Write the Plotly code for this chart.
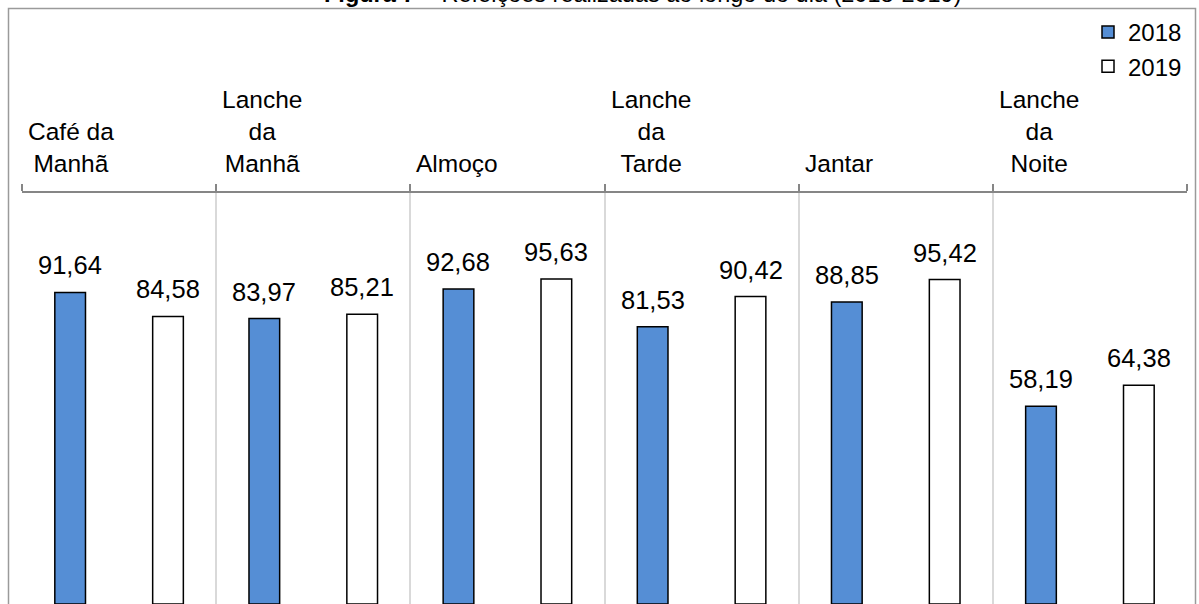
import plotly.graph_objects as go

categories = ["Café da<br>Manhã", "Lanche<br>da<br>Manhã", "Almoço", "Lanche<br>da<br>Tarde", "Jantar", "Lanche<br>da<br>Noite"]
values_2018 = [91.64, 83.97, 92.68, 81.53, 88.85, 58.19]
values_2019 = [84.58, 85.21, 95.63, 90.42, 95.42, 64.38]
labels_2018 = ["91,64", "83,97", "92,68", "81,53", "88,85", "58,19"]
labels_2019 = ["84,58", "85,21", "95,63", "90,42", "95,42", "64,38"]
title_text = "<b>Figura 7</b> – Refeições realizadas ao longo do dia (2018-2019)"

FONT = "Liberation Sans, Arial, sans-serif"
BLUE = "#558ED5"
xs = list(range(len(categories)))
OFF = 0.252
W = 0.158

fig = go.Figure()
fig.add_trace(go.Bar(x=xs, y=values_2018, name="2018", width=W, offset=-OFF - W / 2,
                     marker=dict(color=BLUE, line=dict(color="black", width=1.5)),
                     legendgroup="a"))
fig.add_trace(go.Bar(x=xs, y=values_2019, name="2019", width=W, offset=OFF - W / 2,
                     marker=dict(color="white", line=dict(color="black", width=1.5)),
                     legendgroup="b"))

ann = []
for i, (v, t) in enumerate(zip(values_2018, labels_2018)):
    ann.append(dict(x=i - OFF, y=v, xref="x", yref="y", text=t, showarrow=False,
                    yanchor="bottom", xanchor="center", yshift=11,
                    font=dict(family=FONT, size=25.5, color="black")))
for i, (v, t) in enumerate(zip(values_2019, labels_2019)):
    ann.append(dict(x=i + OFF, y=v, xref="x", yref="y", text=t, showarrow=False,
                    yanchor="bottom", xanchor="center", yshift=11,
                    font=dict(family=FONT, size=25.5, color="black")))
for i, c in enumerate(categories):
    ann.append(dict(x=i - 0.5, y=1, xref="x", yref="paper", text=c, showarrow=False,
                    yanchor="bottom", xanchor="left", align="center", xshift=4, yshift=14,
                    font=dict(family=FONT, size=24.5, color="black")))
ann.append(dict(x=(643 - 22) / 1165, y=1 + (193 - 9) / 411, xref="paper", yref="paper",
                text=title_text, showarrow=False, xanchor="center", yanchor="bottom",
                font=dict(family=FONT, size=23.5, color="black")))

fig.update_layout(
    width=1199, height=604,
    margin=dict(l=22, r=12, t=193, b=0, pad=0),
    paper_bgcolor="white", plot_bgcolor="white",
    barmode="overlay",
    showlegend=True,
    legend=dict(x=(1088 - 22) / 1165, y=1 + (193 - 10) / 411, xanchor="left", yanchor="top",
                font=dict(family=FONT, size=24, color="black"), tracegroupgap=0,
                bgcolor="rgba(0,0,0,0)", itemclick=False),
    xaxis=dict(range=[-0.5, 5.5], side="top", tickmode="array",
               tickvals=[i - 0.5 for i in range(len(categories) + 1)],
               showticklabels=False, ticks="outside", ticklen=7, tickwidth=1.5,
               tickcolor="#868686", showline=True, linecolor="#868686", linewidth=2,
               showgrid=True, gridcolor="#d9d9d9", gridwidth=1.5, zeroline=False),
    yaxis=dict(range=[0, 120.9], showticklabels=False, showgrid=False, zeroline=False,
               showline=False, ticks=""),
    annotations=ann,
    shapes=[dict(type="rect", xref="paper", yref="paper",
                 x0=(8.5 - 22) / 1165, x1=(1195.5 - 22) / 1165,
                 y0=-0.1, y1=1 + (193 - 8.5) / 411,
                 line=dict(color="#9a9a9a", width=1.5), fillcolor="rgba(0,0,0,0)", layer="below")],
    font=dict(family=FONT),
)

fig.write_html("out.html")
